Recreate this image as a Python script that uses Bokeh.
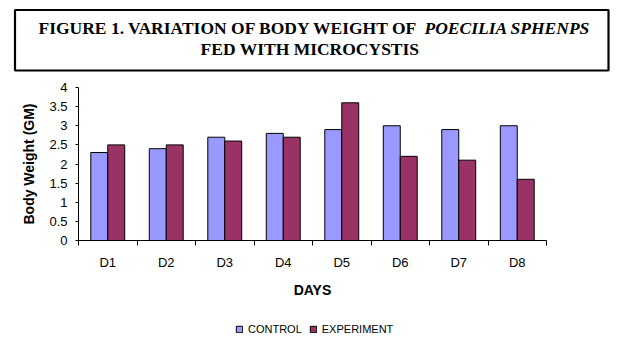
from bokeh.plotting import figure
from bokeh.models import (Range1d, FixedTicker, LinearAxis, Legend, LegendItem,
                          Label, BoxAnnotation, NumeralTickFormatter, ColumnDataSource)
from bokeh.embed import file_html
from bokeh.resources import INLINE

days = ["D1", "D2", "D3", "D4", "D5", "D6", "D7", "D8"]
control = [2.3, 2.4, 2.7, 2.8, 2.9, 3.0, 2.9, 3.0]
experiment = [2.5, 2.5, 2.6, 2.7, 3.6, 2.2, 2.1, 1.6]
y_ticks = [0, 0.5, 1, 1.5, 2, 2.5, 3, 3.5, 4]

SANS = "Liberation Sans"
SERIF = "Liberation Serif"
BAR_W = 0.29

# canvas geometry (pixels)
W, H = 624, 352
X0, X1 = 78, 546      # plot area left / right
Y0, Y1 = 240, 87      # plot area bottom (value 0) / top (value 4)
YMAX = 4
n = len(days)
px_x = (X1 - X0) / n
px_y = (Y0 - Y1) / YMAX

p = figure(width=W, height=H, output_backend="svg", toolbar_location=None,
           x_range=Range1d(-X0 / px_x, (W - X0) / px_x),
           y_range=Range1d(-(H - Y0) / px_y, YMAX + Y1 / px_y),
           x_axis_type=None, y_axis_type=None, min_border=0)
p.outline_line_color = None
p.xgrid.visible = False
p.ygrid.visible = False

centers = [i + 0.5 for i in range(n)]
src = ColumnDataSource(dict(
    xc=[c - BAR_W / 2 for c in centers],
    xe=[c + BAR_W / 2 for c in centers],
    control=control, experiment=experiment))

r1 = p.vbar(x="xc", top="control", width=BAR_W, source=src,
            fill_color="#9999FF", line_color="black", line_width=1)
r2 = p.vbar(x="xe", top="experiment", width=BAR_W, source=src,
            fill_color="#993366", line_color="black", line_width=1)

xaxis = LinearAxis(
    fixed_location=0, bounds=(0, n),
    ticker=FixedTicker(ticks=centers, minor_ticks=list(range(n + 1))),
    major_label_overrides={c: d for c, d in zip(centers, days)},
    axis_label="DAYS",
    axis_label_text_font=SANS, axis_label_text_font_style="bold",
    axis_label_text_font_size="14px", axis_label_text_color="black",
    axis_label_standoff=9,
    major_label_text_font=SANS, major_label_text_font_size="13px",
    major_label_text_color="black", major_label_standoff=9,
    major_tick_out=0, major_tick_in=0,
    minor_tick_out=5, minor_tick_in=0,
    minor_tick_line_color="black", axis_line_color="black")
p.add_layout(xaxis, "below")

yaxis = LinearAxis(
    fixed_location=0, bounds=(0, YMAX),
    ticker=FixedTicker(ticks=y_ticks, minor_ticks=[]),
    formatter=NumeralTickFormatter(format="0.[0]"),
    axis_label="Body Weight (GM)",
    axis_label_text_font=SANS, axis_label_text_font_style="bold",
    axis_label_text_font_size="14px", axis_label_text_color="black",
    axis_label_standoff=9,
    major_label_text_font=SANS, major_label_text_font_size="13px",
    major_label_text_color="black", major_label_standoff=8,
    major_tick_out=3, major_tick_in=0,
    minor_tick_out=0, minor_tick_in=0,
    major_tick_line_color="black", axis_line_color="black")
p.add_layout(yaxis, "left")

legend = Legend(items=[LegendItem(label="CONTROL", renderers=[r1]),
                       LegendItem(label="EXPERIMENT", renderers=[r2])],
                orientation="horizontal", location=(235, H - 335),
                border_line_alpha=0, background_fill_alpha=0,
                glyph_width=8, glyph_height=8, label_height=12,
                label_text_font=SANS, label_text_font_size="11px",
                label_text_color="black", label_standoff=5, spacing=7,
                padding=0, margin=0)
p.add_layout(legend, "center")

# title box
box = BoxAnnotation(left=14.5, right=608, top=H - 9.5, bottom=H - 70,
                    left_units="screen", right_units="screen",
                    top_units="screen", bottom_units="screen",
                    fill_alpha=0, line_color="black", line_alpha=1,
                    line_width=2.2)
p.add_layout(box)

t1 = Label(x=418, y=H - 27.5, x_units="screen", y_units="screen",
           text="FIGURE 1. VARIATION OF BODY WEIGHT OF",
           text_font=SERIF, text_font_style="bold", text_font_size="17.5px",
           text_align="right", text_baseline="middle", text_color="black")
t2 = Label(x=424, y=H - 27.5, x_units="screen", y_units="screen",
           text="POECILIA SPHENPS",
           text_font=SERIF, text_font_style="bold italic", text_font_size="17.5px",
           text_align="left", text_baseline="middle", text_color="black")
t3 = Label(x=309.5, y=H - 48.5, x_units="screen", y_units="screen",
           text="FED WITH MICROCYSTIS",
           text_font=SERIF, text_font_style="bold", text_font_size="17.5px",
           text_align="center", text_baseline="middle", text_color="black")
for t in (t1, t2, t3):
    p.add_layout(t)

open("out.html", "w").write(file_html(p, INLINE))
